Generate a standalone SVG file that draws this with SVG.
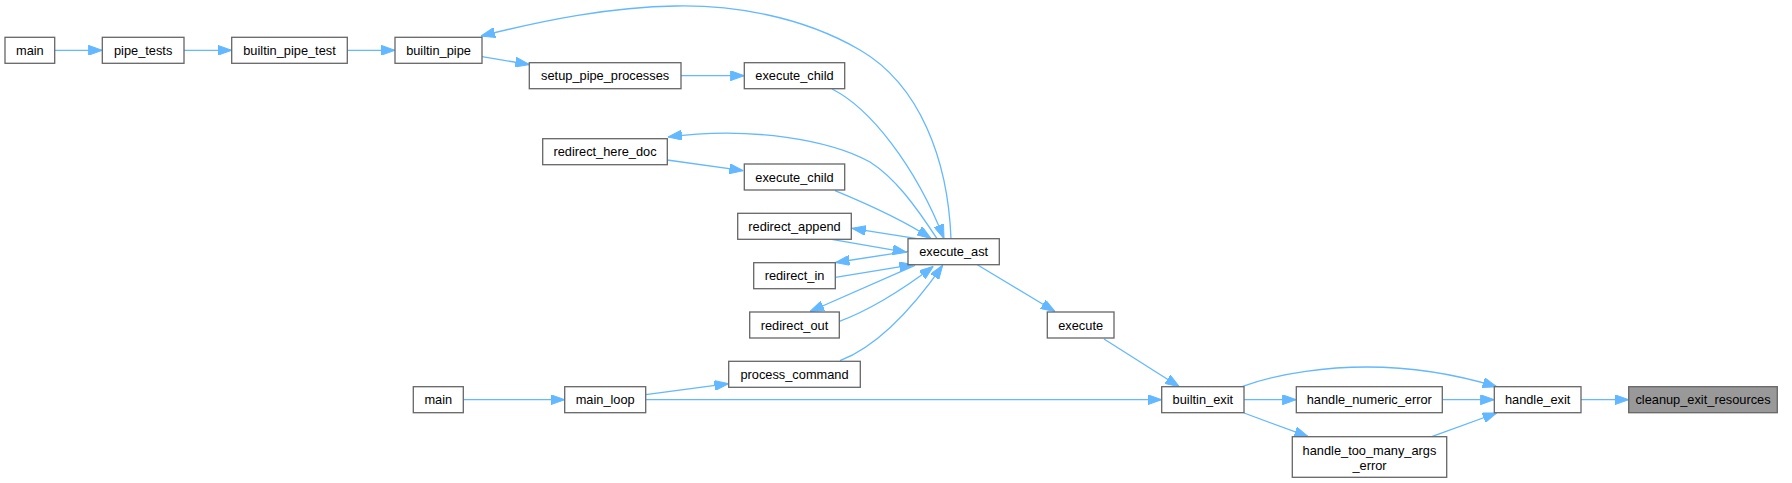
<svg xmlns="http://www.w3.org/2000/svg" width="1792" height="483" viewBox="0 0 1792 483">
<style>
.n rect{fill:#ffffff;stroke:#666666;stroke-width:1.3}
.root rect{fill:#999999;stroke:#666666;stroke-width:1.3}
text{font-family:"Liberation Sans",Arial,Helvetica,sans-serif;font-size:12.8px;fill:#000000;text-anchor:middle}
.e path{fill:none;stroke:#63b8ff;stroke-width:1.3;marker-end:url(#ah)}
</style>
<defs>
<marker id="ah" markerUnits="userSpaceOnUse" viewBox="0 0 14 10" refX="14" refY="5" markerWidth="14" markerHeight="10" orient="auto">
<path d="M0,0 L14,5 L0,10 z" fill="#63b8ff" stroke="#63b8ff" stroke-width="1"/>
</marker>
</defs>
<rect width="1792" height="483" fill="#ffffff"/>
<g id="edges" class="e">
<path d="M54.7,50.3 L102.3,50.3"/>
<path d="M184,50.3 L231.7,50.3"/>
<path d="M347.3,50.3 L395,50.3"/>
<path d="M482,56.7 L529.3,64.5"/>
<path d="M681,75.7 L744.3,75.7"/>
<path d="M832,89 C 870,108 915,165 944,238.5"/>
<path d="M951,238.7 C 948,160 920,85 860,50 C 800,15 730,5 676,6 C 610,7 545,20 481,36"/>
<path d="M937,238.7 C 915,205 895,178 870,162 C 830,140 750,126 668,137"/>
<path d="M667.3,160 L743.3,170.7"/>
<path d="M835,190.7 C 860,201 900,218 931,238.5"/>
<path d="M917,238.7 L852,228.3"/>
<path d="M831.7,239.3 L906.7,252.3"/>
<path d="M908,251.3 L835.5,262.5"/>
<path d="M835.3,277.3 L913.3,264.7"/>
<path d="M915,265.3 L810,311.5"/>
<path d="M839.3,321.3 C 865,312 900,292 933.3,266.3"/>
<path d="M840,360.7 C 880,345 915,305 942.7,265.3"/>
<path d="M977.3,264.7 L1055,311.5"/>
<path d="M463.3,399.7 L564.7,399.7"/>
<path d="M645.7,394.7 L728.5,383.7"/>
<path d="M645.7,399.7 L1161.7,399.7"/>
<path d="M1104,339 L1179.3,386.7"/>
<path d="M1242.7,386.3 C 1282,372 1330,367 1366.7,367 C 1410,367 1455,374 1496.7,386.7"/>
<path d="M1244,399.7 L1296.3,399.7"/>
<path d="M1442.3,399.7 L1494.3,399.7"/>
<path d="M1244,413 L1308.3,436.7"/>
<path d="M1431.7,436.7 L1496.7,413"/>
<path d="M1581,399.7 L1628.7,399.7"/>
</g>
<g id="node_main1" class="n"><rect x="5" y="37.3" width="49.7" height="26"/><text x="29.85" y="54.9">main</text></g>
<g id="node_pipe_tests" class="n"><rect x="102.3" y="37.3" width="81.7" height="26"/><text x="143.15" y="54.9">pipe_tests</text></g>
<g id="node_builtin_pipe_test" class="n"><rect x="231.7" y="37.3" width="115.6" height="26"/><text x="289.5" y="54.9">builtin_pipe_test</text></g>
<g id="node_builtin_pipe" class="n"><rect x="395" y="37.3" width="87" height="26"/><text x="438.5" y="54.9">builtin_pipe</text></g>
<g id="node_setup_pipe_processes" class="n"><rect x="529.3" y="62.7" width="151.7" height="26"/><text x="605.15" y="80.3">setup_pipe_processes</text></g>
<g id="node_execute_child1" class="n"><rect x="744.3" y="62.7" width="100.4" height="26"/><text x="794.5" y="80.3">execute_child</text></g>
<g id="node_redirect_here_doc" class="n"><rect x="542.7" y="138.7" width="124.6" height="26"/><text x="605" y="156.3">redirect_here_doc</text></g>
<g id="node_execute_child2" class="n"><rect x="744.3" y="164" width="100.4" height="26"/><text x="794.5" y="181.6">execute_child</text></g>
<g id="node_redirect_append" class="n"><rect x="737.7" y="213.3" width="113.6" height="26"/><text x="794.5" y="230.9">redirect_append</text></g>
<g id="node_execute_ast" class="n"><rect x="908" y="238.7" width="91.3" height="26"/><text x="953.65" y="256.3">execute_ast</text></g>
<g id="node_redirect_in" class="n"><rect x="753.7" y="262.7" width="81.6" height="26"/><text x="794.5" y="280.3">redirect_in</text></g>
<g id="node_redirect_out" class="n"><rect x="749.7" y="312" width="89.6" height="26"/><text x="794.5" y="329.6">redirect_out</text></g>
<g id="node_process_command" class="n"><rect x="728.7" y="361.3" width="131.6" height="26"/><text x="794.5" y="378.9">process_command</text></g>
<g id="node_main2" class="n"><rect x="413.3" y="386.7" width="50" height="26"/><text x="438.3" y="404.3">main</text></g>
<g id="node_main_loop" class="n"><rect x="564.7" y="386.7" width="81" height="26"/><text x="605.2" y="404.3">main_loop</text></g>
<g id="node_execute" class="n"><rect x="1047.3" y="312" width="66.7" height="26"/><text x="1080.65" y="329.6">execute</text></g>
<g id="node_builtin_exit" class="n"><rect x="1161.7" y="386.7" width="82.3" height="26"/><text x="1202.85" y="404.3">builtin_exit</text></g>
<g id="node_handle_numeric_error" class="n"><rect x="1296.3" y="386.7" width="146" height="26"/><text x="1369.3" y="404.3">handle_numeric_error</text></g>
<g id="node_handle_too_many_args_error" class="n"><rect x="1292.3" y="436.7" width="154.4" height="40.6"/><text x="1369.5" y="454.9">handle_too_many_args</text><text x="1369.5" y="469.9">_error</text></g>
<g id="node_handle_exit" class="n"><rect x="1494.3" y="386.7" width="86.7" height="26"/><text x="1537.65" y="404.3">handle_exit</text></g>
<g id="node_cleanup_exit_resources" class="root"><rect x="1628.7" y="386.7" width="148.6" height="26"/><text x="1703" y="404.3">cleanup_exit_resources</text></g>
</svg>
